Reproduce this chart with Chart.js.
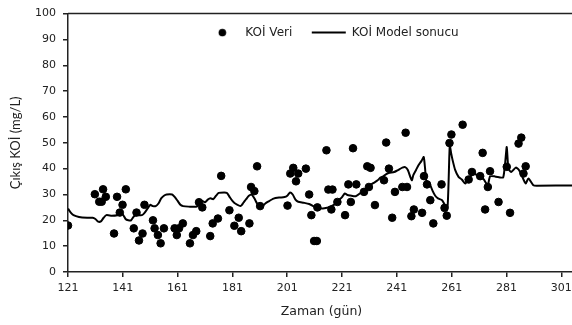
<!DOCTYPE html>
<html>
<head>
<meta charset="utf-8">
<script src="https://cdn.jsdelivr.net/npm/chart.js@4.4.1/dist/chart.umd.min.js"></script>
<style>
html, body { margin: 0; padding: 0; overflow: hidden; background: #fff; }
#kutu { width: 580px; height: 325px; }
</style>
</head>
<body>
<div id="kutu"><canvas id="grafikKoi"></canvas></div>
<script>
// Ölçülen KOİ değerleri (gün, mg/L)
var veriGun = [121, 130.8, 132.4, 133.3, 133.8, 134.8, 137.8, 138.9, 139.9, 140.9, 142.1, 145, 146, 146.9, 148.2, 148.9,
  152, 152.6, 153.8, 154.8, 156, 159.9, 160.7, 161.5, 162.9, 165.5, 166.6, 167.8, 168.8, 170, 172.9, 173.8, 175.7, 176.9,
  179.9, 181.7, 183.3, 184.2, 187.2, 187.8, 189, 190, 191.1, 201.1, 202.1, 203.2, 204.2, 205, 207.8, 209, 209.8, 210.8,
  211.8, 212, 215.3, 216, 217.5, 217.1, 219.3, 222.1, 223.3, 224.2, 225, 226.2, 229, 230.2, 231.4, 230.8, 233, 236.3,
  237.1, 238.1, 239.3, 240.3, 243, 244.2, 244.7, 246.3, 247.2, 250.2, 250.9, 252, 253.2, 254.3, 257.3, 258.4, 259.2,
  260.2, 260.9, 265, 267.2, 268.4, 271.4, 272.3, 273.2, 274.2, 275, 278.1, 281.1, 282.3, 285.4, 286.4, 287.2, 288];
var veriKoi = [18, 30.1, 27.2, 27.2, 32, 29.1, 14.9, 29.1, 23, 26, 32, 16.9, 23, 12.2, 14.9, 26,
  20, 16.9, 14.3, 11.1, 16.9, 16.9, 14.3, 16.9, 18.8, 11.1, 14.3, 15.8, 27, 25, 13.9, 18.8, 20.7, 37.2,
  23.9, 17.9, 21, 15.8, 18.8, 32.9, 31.3, 40.9, 25.5, 25.7, 38.1, 40.3, 35.1, 38.1, 40, 30, 22, 12,
  12, 25, 47.1, 31.9, 31.9, 24.2, 27.1, 22, 33.9, 27.1, 47.9, 33.9, 31, 40.9, 40.3, 32.9, 25.9, 35.5,
  50.1, 40, 21, 31, 32.9, 53.9, 32.9, 21.6, 24.2, 22.9, 37.1, 33.9, 27.8, 18.8, 33.9, 24.8, 21.8,
  49.9, 53.2, 57, 35.8, 38.7, 37.1, 46.1, 24.2, 32.9, 39, 27.1, 40.7, 22.9, 49.7, 52, 38.1, 40.9];

// Model sonucu (gün, mg/L)
var modelGun = [121, 122, 123, 125, 128, 130, 131, 132, 133, 134, 135, 137, 139, 140, 141, 142, 143, 144, 145, 146,
  148, 149, 150, 151, 152, 153, 154, 155, 156, 157, 159, 160, 161, 162, 163, 165, 168, 169, 170, 171, 172, 173, 174,
  175, 176, 178, 179, 180, 181, 182, 184, 185, 186, 187, 188, 189, 190, 191, 192, 193, 194, 196, 198, 200, 201, 202,
  203, 204, 205, 207, 209, 211, 212, 214, 216, 218, 220, 221, 222, 223, 224, 226, 228, 229, 230, 231, 233, 234, 235,
  236, 237, 238, 240, 241, 242, 243, 244, 245, 246, 246.5, 247, 248, 249, 250, 250.8, 251.3, 251.7, 253, 254, 255, 256,
  257.5, 258.5, 259.5, 260.3, 260.8, 261.4, 262.3, 263.5, 264.7, 266, 267.2, 269, 270.8, 272.6, 273.5, 274.2, 275,
  276.8, 278.6, 279.8, 280.5, 281.1, 281.7, 282.7, 284.4, 285.6, 287.2, 288, 289, 290.8, 292, 306];
var modelKoi = [24.5, 23, 22, 21.3, 21, 21, 20.5, 19.5, 19.6, 21, 22, 21.8, 22, 22.5, 22.3, 20.5, 20, 20, 21.5, 22,
  22, 23, 24.5, 26, 25.5, 25.5, 26.5, 28.5, 29.5, 30, 30, 29, 27.5, 26, 25.5, 25.3, 25.3, 27, 27.5, 27, 28, 28.5, 28.2,
  29.5, 30.6, 30.8, 30.6, 29, 27.5, 26.5, 25.5, 26.8, 28.2, 29.5, 30, 28.5, 26.5, 25.2, 25.5, 26.5, 27.2, 28.4, 28.8, 29, 29.5, 30.8,
  30, 28, 27.2, 26.8, 26.3, 25.2, 24.6, 24.6, 25, 26, 28, 29, 30.4, 29.8, 29.6, 29.3, 30.8, 31.5, 32.5, 33.5, 34.8, 35.5, 36.5,
  37, 37.8, 38.3, 38.7, 39.2, 39.8, 40.4, 40.6, 39.5, 36.5, 35.5, 37.5, 39.5, 41.5, 43, 44.5, 40, 35.5, 34, 31.5, 29.5, 28.5,
  27.8, 26, 25.2, 49, 46, 43, 39.4, 36.8, 35.8, 34.2, 36.2, 38.1, 37.1, 36, 34.5, 33.5, 37,
  37, 36.6, 36.6, 42, 48.4, 40, 38.7, 40.4, 39.4, 35.8, 34.2, 36.2, 33.6, 33.4, 33.5];

var xEtiketleri = [121, 141, 161, 181, 201, 221, 241, 261, 281, 301];

// lejantı çizim alanının içine kaydırmak için
var legendDx = 43.5, legendDy = -6.5;

function noktalar(xs, ys) {
  return xs.map(function (x, i) { return { x: x, y: ys[i] }; });
}

// lejanttaki nokta simgesi
var noktaResmi = document.createElement('canvas');
noktaResmi.width = 9;
noktaResmi.height = 9;
(function () {
  var c = noktaResmi.getContext('2d');
  c.fillStyle = '#000';
  c.beginPath();
  c.arc(4.5, 4.5, 3.8, 0, Math.PI * 2);
  c.fill();
})();

var ustCizgi = {
  id: 'ustCizgi',
  afterInit: function (chart) {
    var lg = chart.legend;
    var fitOrig = lg.fit;
    // lejant yer kaplamasın, çizim alanının üstüne binsin
    lg.fit = function () { fitOrig.call(this); this.gercekYukseklik = this.height; this.height = 0; };
  },
  afterLayout: function (chart) {
    var lg = chart.legend;
    lg.left += legendDx; lg.right += legendDx;
    lg.top += legendDy;
    lg.bottom = lg.top + lg.gercekYukseklik + 10;
  },
  afterDraw: function (chart) {
    var a = chart.chartArea, c = chart.ctx;
    c.save();
    c.strokeStyle = '#222';
    c.lineWidth = 1.5;
    c.beginPath();
    c.moveTo(a.left, a.top);
    c.lineTo(a.right, a.top);
    c.stroke();
    c.restore();
  }
};

var yazi = { family: 'DejaVu Sans', size: 11 };

var ctx = document.getElementById('grafikKoi').getContext('2d');
var grafikKoi = new Chart(ctx, {
  type: 'scatter',
  data: {
    datasets: [{
      label: 'KOİ Veri',
      data: noktalar(veriGun, veriKoi),
      backgroundColor: '#000',
      borderColor: '#000',
      pointRadius: 3.8,
      showLine: false
    }, {
      label: 'KOİ Model sonucu',
      data: noktalar(modelGun, modelKoi),
      borderColor: '#000',
      backgroundColor: '#000',
      borderWidth: 2,
      pointRadius: 0,
      pointStyle: 'line',
      showLine: true,
      tension: 0.2
    }]
  },
  options: {
    responsive: true,
    maintainAspectRatio: false,
    animation: false,
    layout: { padding: { top: 11, right: 3, bottom: 0, left: 0 } },
    plugins: {
      tooltip: { enabled: false },
      legend: {
        position: 'top',
        align: 'center',
        labels: {
          usePointStyle: true,
          pointStyleWidth: 34,
          padding: 19.5,
          color: '#222',
          font: { family: 'DejaVu Sans', size: 12 },
          generateLabels: function (chart) {
            var items = Chart.defaults.plugins.legend.labels.generateLabels(chart);
            items[0].pointStyle = noktaResmi;
            return items;
          }
        }
      }
    },
    scales: {
      x: {
        type: 'linear',
        min: 121,
        max: 306,
        afterBuildTicks: function (s) {
          s.ticks = xEtiketleri.map(function (v) { return { value: v }; });
        },
        afterFit: function (s) { s.height = 53; },
        grid: { drawOnChartArea: false, drawTicks: true, tickLength: 5, color: '#222', lineWidth: 1.5 },
        border: { color: '#222', width: 1.5 },
        ticks: { color: '#222', font: yazi, padding: 5, maxRotation: 0 },
        title: { display: true, text: 'Zaman (gün)', color: '#222', font: { family: 'DejaVu Sans', size: 12.5 }, padding: { top: 4, bottom: 6 } }
      },
      y: {
        min: 0,
        max: 100,
        afterFit: function (s) { s.width = 68; },
        grid: { drawOnChartArea: false, drawTicks: true, tickLength: 5, color: '#222', lineWidth: 1.5 },
        border: { color: '#222', width: 1.5 },
        ticks: { stepSize: 10, color: '#222', font: yazi, padding: 7 },
        title: { display: true, text: 'Çıkış KOİ (mg/L)', color: '#222', font: { family: 'Lato', size: 13 }, padding: { top: 8, bottom: 0 } }
      }
    }
  },
  plugins: [ustCizgi]
});
</script>
</body>
</html>
